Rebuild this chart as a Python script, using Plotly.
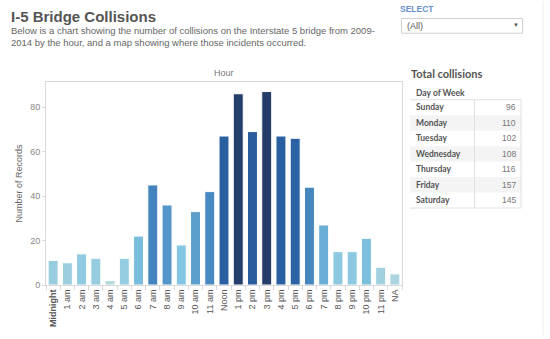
import plotly.graph_objects as go

# Collisions on the I-5 bridge, 2009-2014, by hour of day
hours = ["Midnight", "1 am", "2 am", "3 am", "4 am", "5 am", "6 am", "7 am", "8 am",
         "9 am", "10 am", "11 am", "Noon", "1 pm", "2 pm", "3 pm", "4 pm", "5 pm",
         "6 pm", "7 pm", "8 pm", "9 pm", "10 pm", "11 pm", "NA"]
records = [11, 10, 14, 12, 2, 12, 22, 45, 36, 18, 33, 42, 67, 86, 69, 87, 67, 66,
           44, 27, 15, 15, 21, 8, 5]

# Totals by day of week
days = ["Sunday", "Monday", "Tuesday", "Wednesday", "Thursday", "Friday", "Saturday"]
day_totals = [96, 110, 102, 108, 116, 157, 145]

W, H = 550, 339
ML, MR, MT, MB = 46, 148, 82, 51
PW, PH = W - ML - MR, H - MT - MB


def px(x):
    return (x - ML) / PW


def py(y):
    return (H - MB - y) / PH


blues = [[0.0, "#b3d8de"], [0.2, "#80c4e2"], [0.45, "#4a8cc3"],
         [0.75, "#2a62a6"], [1.0, "#243d68"]]

fig = go.Figure(go.Bar(
    x=hours, y=records,
    marker=dict(color=records, colorscale=blues, cmin=min(records), cmax=max(records),
                line=dict(color="white", width=1)),
))

tick_text = ["<b>" + h + "</b>" if i == 0 else h for i, h in enumerate(hours)]

fig.update_layout(
    width=W, height=H,
    margin=dict(l=ML, r=MR, t=MT, b=MB),
    paper_bgcolor="white", plot_bgcolor="white",
    font=dict(family="Liberation Sans, Arial, sans-serif", color="#555"),
    bargap=0.3,
    showlegend=False,
    xaxis=dict(
        tickmode="array", tickvals=hours, ticktext=tick_text, tickangle=-90,
        tickfont=dict(size=9, color="#555"),
        showline=True, linecolor="#d9d9d9", mirror=True,
        ticks="outside", tickson="boundaries", ticklen=4, tickcolor="#d9d9d9",
        showgrid=False,
    ),
    yaxis=dict(
        range=[0, 91.3], tickvals=[0, 20, 40, 60, 80],
        tickfont=dict(size=9, color="#888"),
        showline=True, linecolor="#d9d9d9", mirror=True,
        ticks="outside", ticklen=3, tickcolor="#d9d9d9",
        showgrid=False, zeroline=False,
        title=dict(text="Number of Records", font=dict(size=9, color="#666"), standoff=6),
    ),
)

ann = []
shapes = []

# Heading and description
ann.append(dict(x=px(9), y=py(15.5), xref="paper", yref="paper", xanchor="left",
                yanchor="middle", showarrow=False, text="<b>I-5 Bridge Collisions</b>",
                font=dict(size=15, color="#555")))
ann.append(dict(x=px(9), y=py(36), xref="paper", yref="paper", xanchor="left",
                yanchor="middle", showarrow=False, align="left",
                text="Below is a chart showing the number of collisions on the Interstate 5 bridge from 2009-"
                     "<br>2014 by the hour, and a map showing where those incidents occurred.",
                font=dict(size=9.5, color="#666")))

# Axis heading above the bars
ann.append(dict(x=0.5, y=py(73), xref="paper", yref="paper", xanchor="center",
                yanchor="middle", showarrow=False, text="Hour",
                font=dict(size=9, color="#777")))

# Filter control
ann.append(dict(x=px(398), y=py(8), xref="paper", yref="paper", xanchor="left",
                yanchor="middle", showarrow=False, text="<b>SELECT</b>",
                font=dict(size=8.5, color="#6a8fca")))
shapes.append(dict(type="rect", xref="paper", yref="paper",
                   x0=px(401.5), x1=px(522.5), y0=py(17.5), y1=py(32.5),
                   line=dict(color="#d0d0d0", width=1), fillcolor="white"))
ann.append(dict(x=px(405), y=py(25), xref="paper", yref="paper", xanchor="left",
                yanchor="middle", showarrow=False, text="(All)",
                font=dict(size=9, color="#555")))
ann.append(dict(x=px(516), y=py(24.5), xref="paper", yref="paper", xanchor="center",
                yanchor="middle", showarrow=False, text="▼",
                font=dict(size=6, color="#555")))

# Right-hand divider
shapes.append(dict(type="line", xref="paper", yref="paper",
                   x0=px(543), x1=px(543), y0=py(0), y1=py(339),
                   line=dict(color="#eeeeee", width=1)))

# Day-of-week table
ann.append(dict(x=px(409), y=py(73), xref="paper", yref="paper", xanchor="left",
                yanchor="middle", showarrow=False, text="<b>Total collisions</b>",
                font=dict(family="Lato, sans-serif", size=11, color="#555")))
ann.append(dict(x=px(414), y=py(93), xref="paper", yref="paper", xanchor="left",
                yanchor="middle", showarrow=False, text="<b>Day of Week</b>",
                font=dict(family="Lato, sans-serif", size=8.5, color="#555")))

t_left, t_mid, t_right = 410, 474.5, 521
row_top, row_h = 100, 15.7
for i, (d, v) in enumerate(zip(days, day_totals)):
    y0 = row_top + i * row_h
    y1 = y0 + row_h
    if i % 2 == 1:
        shapes.append(dict(type="rect", xref="paper", yref="paper", layer="below",
                           x0=px(t_left), x1=px(t_right), y0=py(y0), y1=py(y1),
                           line=dict(width=0), fillcolor="#f4f4f4"))
    yc = (y0 + y1) / 2
    ann.append(dict(x=px(414), y=py(yc), xref="paper", yref="paper", xanchor="left",
                    yanchor="middle", showarrow=False, text="<b>" + d + "</b>",
                    font=dict(family="Lato, sans-serif", size=8.5, color="#555")))
    ann.append(dict(x=px(517.5), y=py(yc), xref="paper", yref="paper", xanchor="right",
                    yanchor="middle", showarrow=False, text=str(v),
                    font=dict(size=8.5, color="#777")))

row_bottom = row_top + len(days) * row_h
for (x0, y0, x1, y1) in [(t_left, row_top, t_right, row_top),
                         (t_left, row_bottom, t_right, row_bottom),
                         (t_mid, row_top, t_mid, row_bottom),
                         (t_right, row_top, t_right, row_bottom)]:
    shapes.append(dict(type="line", xref="paper", yref="paper",
                       x0=px(x0), x1=px(x1), y0=py(y0), y1=py(y1),
                       line=dict(color="#e0e0e0", width=1)))

fig.update_layout(annotations=ann, shapes=shapes)

fig.write_html("out.html")
